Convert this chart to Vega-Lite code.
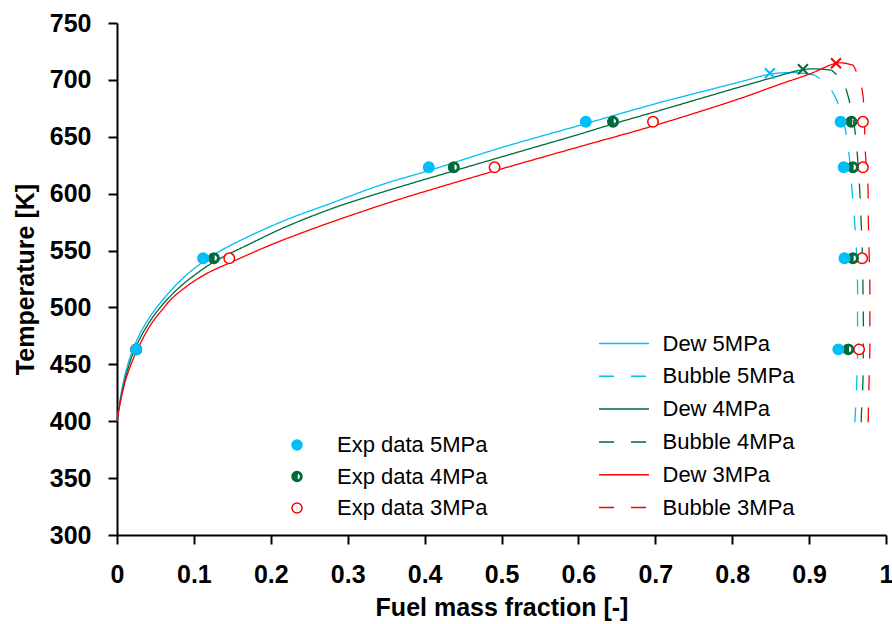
{
  "$schema": "https://vega.github.io/schema/vega-lite/v6.json",
  "width": 769,
  "height": 512,
  "autosize": "none",
  "padding": {"left": 117, "top": 23, "right": 6, "bottom": 89},
  "background": "white",
  "config": {
    "view": {"stroke": null},
    "font": "Liberation Sans",
    "axis": {
      "labelFont": "Liberation Sans",
      "titleFont": "Liberation Sans",
      "labelFontWeight": "bold",
      "titleFontWeight": "bold",
      "labelFontSize": 25,
      "titleFontSize": 25,
      "labelColor": "black",
      "titleColor": "black",
      "domainColor": "black",
      "domainWidth": 2,
      "tickColor": "black",
      "tickWidth": 2,
      "tickSize": 9,
      "grid": false,
      "labelFlush": false,
      "labelOverlap": false
    },
    "legend": {
      "labelFont": "Liberation Sans",
      "labelFontSize": 22,
      "labelColor": "black",
      "padding": 0
    }
  },
  "resolve": {"scale": {"stroke": "independent", "fill": "independent", "shape": "independent", "color": "independent", "strokeDash": "independent"}},
  "layer": [
    {
      "data": {"values": [
        {"s": "Dew 5MPa", "i": 1, "x": 0, "T": 400},
        {"s": "Dew 5MPa", "i": 2, "x": 0.003, "T": 415},
        {"s": "Dew 5MPa", "i": 3, "x": 0.007, "T": 430},
        {"s": "Dew 5MPa", "i": 4, "x": 0.012, "T": 445},
        {"s": "Dew 5MPa", "i": 5, "x": 0.02, "T": 462},
        {"s": "Dew 5MPa", "i": 6, "x": 0.03, "T": 477},
        {"s": "Dew 5MPa", "i": 7, "x": 0.045, "T": 494},
        {"s": "Dew 5MPa", "i": 8, "x": 0.06, "T": 507},
        {"s": "Dew 5MPa", "i": 9, "x": 0.08, "T": 522},
        {"s": "Dew 5MPa", "i": 10, "x": 0.1, "T": 534},
        {"s": "Dew 5MPa", "i": 11, "x": 0.13, "T": 548},
        {"s": "Dew 5MPa", "i": 12, "x": 0.17, "T": 562},
        {"s": "Dew 5MPa", "i": 13, "x": 0.22, "T": 577},
        {"s": "Dew 5MPa", "i": 14, "x": 0.28, "T": 592},
        {"s": "Dew 5MPa", "i": 15, "x": 0.342, "T": 607.4},
        {"s": "Dew 5MPa", "i": 16, "x": 0.4055, "T": 620.3},
        {"s": "Dew 5MPa", "i": 17, "x": 0.5, "T": 640.5},
        {"s": "Dew 5MPa", "i": 18, "x": 0.602, "T": 660.1},
        {"s": "Dew 5MPa", "i": 19, "x": 0.7, "T": 679},
        {"s": "Dew 5MPa", "i": 20, "x": 0.81, "T": 698.2},
        {"s": "Dew 5MPa", "i": 21, "x": 0.849, "T": 705},
        {"s": "Dew 5MPa", "i": 22, "x": 0.875, "T": 706.4},
        {"s": "Dew 5MPa", "i": 23, "x": 0.895, "T": 705.6},
        {"s": "Dew 5MPa", "i": 24, "x": 0.9076, "T": 704.1},

        {"s": "Bubble 5MPa", "i": 1, "x": 0.9595, "T": 399},
        {"s": "Bubble 5MPa", "i": 2, "x": 0.96, "T": 405},
        {"s": "Bubble 5MPa", "i": 3, "x": 0.962, "T": 434},
        {"s": "Bubble 5MPa", "i": 4, "x": 0.963, "T": 460},
        {"s": "Bubble 5MPa", "i": 5, "x": 0.963, "T": 490},
        {"s": "Bubble 5MPa", "i": 6, "x": 0.963, "T": 520},
        {"s": "Bubble 5MPa", "i": 7, "x": 0.9615, "T": 551},
        {"s": "Bubble 5MPa", "i": 8, "x": 0.959, "T": 577},
        {"s": "Bubble 5MPa", "i": 9, "x": 0.9555, "T": 606},
        {"s": "Bubble 5MPa", "i": 10, "x": 0.952, "T": 634},
        {"s": "Bubble 5MPa", "i": 11, "x": 0.946, "T": 660},
        {"s": "Bubble 5MPa", "i": 12, "x": 0.936, "T": 682},
        {"s": "Bubble 5MPa", "i": 13, "x": 0.9245, "T": 695},
        {"s": "Bubble 5MPa", "i": 14, "x": 0.9076, "T": 704.1},

        {"s": "Dew 4MPa", "i": 1, "x": 0, "T": 400},
        {"s": "Dew 4MPa", "i": 2, "x": 0.003, "T": 413},
        {"s": "Dew 4MPa", "i": 3, "x": 0.007, "T": 427},
        {"s": "Dew 4MPa", "i": 4, "x": 0.012, "T": 441},
        {"s": "Dew 4MPa", "i": 5, "x": 0.02, "T": 458},
        {"s": "Dew 4MPa", "i": 6, "x": 0.03, "T": 473},
        {"s": "Dew 4MPa", "i": 7, "x": 0.045, "T": 490},
        {"s": "Dew 4MPa", "i": 8, "x": 0.06, "T": 503},
        {"s": "Dew 4MPa", "i": 9, "x": 0.08, "T": 517},
        {"s": "Dew 4MPa", "i": 10, "x": 0.1, "T": 528},
        {"s": "Dew 4MPa", "i": 11, "x": 0.126, "T": 540},
        {"s": "Dew 4MPa", "i": 12, "x": 0.17, "T": 555},
        {"s": "Dew 4MPa", "i": 13, "x": 0.22, "T": 571},
        {"s": "Dew 4MPa", "i": 14, "x": 0.28, "T": 587},
        {"s": "Dew 4MPa", "i": 15, "x": 0.342, "T": 600.7},
        {"s": "Dew 4MPa", "i": 16, "x": 0.438, "T": 620},
        {"s": "Dew 4MPa", "i": 17, "x": 0.5, "T": 632.3},
        {"s": "Dew 4MPa", "i": 18, "x": 0.6, "T": 652},
        {"s": "Dew 4MPa", "i": 19, "x": 0.645, "T": 661.3},
        {"s": "Dew 4MPa", "i": 20, "x": 0.7, "T": 672},
        {"s": "Dew 4MPa", "i": 21, "x": 0.81, "T": 693.8},
        {"s": "Dew 4MPa", "i": 22, "x": 0.85, "T": 701.5},
        {"s": "Dew 4MPa", "i": 23, "x": 0.892, "T": 709},
        {"s": "Dew 4MPa", "i": 24, "x": 0.912, "T": 709.6},
        {"s": "Dew 4MPa", "i": 25, "x": 0.9295, "T": 708.5},

        {"s": "Bubble 4MPa", "i": 1, "x": 0.9678, "T": 399},
        {"s": "Bubble 4MPa", "i": 2, "x": 0.968, "T": 406},
        {"s": "Bubble 4MPa", "i": 3, "x": 0.97, "T": 435},
        {"s": "Bubble 4MPa", "i": 4, "x": 0.9705, "T": 463},
        {"s": "Bubble 4MPa", "i": 5, "x": 0.9705, "T": 492},
        {"s": "Bubble 4MPa", "i": 6, "x": 0.97, "T": 520},
        {"s": "Bubble 4MPa", "i": 7, "x": 0.969, "T": 552},
        {"s": "Bubble 4MPa", "i": 8, "x": 0.9675, "T": 578},
        {"s": "Bubble 4MPa", "i": 9, "x": 0.9655, "T": 607},
        {"s": "Bubble 4MPa", "i": 10, "x": 0.9625, "T": 636},
        {"s": "Bubble 4MPa", "i": 11, "x": 0.959, "T": 658},
        {"s": "Bubble 4MPa", "i": 12, "x": 0.951, "T": 685},
        {"s": "Bubble 4MPa", "i": 13, "x": 0.944, "T": 698},
        {"s": "Bubble 4MPa", "i": 14, "x": 0.9295, "T": 708.5},

        {"s": "Dew 3MPa", "i": 1, "x": 0, "T": 400},
        {"s": "Dew 3MPa", "i": 2, "x": 0.003, "T": 412},
        {"s": "Dew 3MPa", "i": 3, "x": 0.007, "T": 425},
        {"s": "Dew 3MPa", "i": 4, "x": 0.012, "T": 438},
        {"s": "Dew 3MPa", "i": 5, "x": 0.02, "T": 453},
        {"s": "Dew 3MPa", "i": 6, "x": 0.03, "T": 468},
        {"s": "Dew 3MPa", "i": 7, "x": 0.045, "T": 486},
        {"s": "Dew 3MPa", "i": 8, "x": 0.06, "T": 499},
        {"s": "Dew 3MPa", "i": 9, "x": 0.07, "T": 507},
        {"s": "Dew 3MPa", "i": 10, "x": 0.08, "T": 513},
        {"s": "Dew 3MPa", "i": 11, "x": 0.1, "T": 523},
        {"s": "Dew 3MPa", "i": 12, "x": 0.12, "T": 531},
        {"s": "Dew 3MPa", "i": 13, "x": 0.146, "T": 539},
        {"s": "Dew 3MPa", "i": 14, "x": 0.2, "T": 555},
        {"s": "Dew 3MPa", "i": 15, "x": 0.25, "T": 568},
        {"s": "Dew 3MPa", "i": 16, "x": 0.3, "T": 580},
        {"s": "Dew 3MPa", "i": 17, "x": 0.3637, "T": 594.3},
        {"s": "Dew 3MPa", "i": 18, "x": 0.491, "T": 620},
        {"s": "Dew 3MPa", "i": 19, "x": 0.6, "T": 641},
        {"s": "Dew 3MPa", "i": 20, "x": 0.697, "T": 659.5},
        {"s": "Dew 3MPa", "i": 21, "x": 0.81, "T": 683.6},
        {"s": "Dew 3MPa", "i": 22, "x": 0.862, "T": 696.2},
        {"s": "Dew 3MPa", "i": 23, "x": 0.9, "T": 705},
        {"s": "Dew 3MPa", "i": 24, "x": 0.935, "T": 714.6},
        {"s": "Dew 3MPa", "i": 25, "x": 0.948, "T": 714.5},
        {"s": "Dew 3MPa", "i": 26, "x": 0.9575, "T": 712.8},

        {"s": "Bubble 3MPa", "i": 1, "x": 0.9768, "T": 399},
        {"s": "Bubble 3MPa", "i": 2, "x": 0.977, "T": 406},
        {"s": "Bubble 3MPa", "i": 3, "x": 0.978, "T": 435},
        {"s": "Bubble 3MPa", "i": 4, "x": 0.979, "T": 463},
        {"s": "Bubble 3MPa", "i": 5, "x": 0.979, "T": 492},
        {"s": "Bubble 3MPa", "i": 6, "x": 0.979, "T": 520},
        {"s": "Bubble 3MPa", "i": 7, "x": 0.978, "T": 550},
        {"s": "Bubble 3MPa", "i": 8, "x": 0.977, "T": 578},
        {"s": "Bubble 3MPa", "i": 9, "x": 0.9765, "T": 607},
        {"s": "Bubble 3MPa", "i": 10, "x": 0.9732, "T": 636},
        {"s": "Bubble 3MPa", "i": 11, "x": 0.972, "T": 660},
        {"s": "Bubble 3MPa", "i": 12, "x": 0.97, "T": 686.5},
        {"s": "Bubble 3MPa", "i": 13, "x": 0.966, "T": 699.7},
        {"s": "Bubble 3MPa", "i": 14, "x": 0.9575, "T": 712.8}
      ]},
      "mark": {"type": "line", "interpolate": "catmull-rom", "strokeWidth": 1.3},
      "encoding": {
        "x": {"field": "x", "type": "quantitative",
              "scale": {"domain": [0, 1], "nice": false, "zero": false},
              "axis": {"values": [0, 0.1, 0.2, 0.3, 0.4, 0.5, 0.6, 0.7, 0.8, 0.9, 1], "format": "~g",
                       "title": "Fuel mass fraction [-]", "labelPadding": 18, "titlePadding": 8}},
        "y": {"field": "T", "type": "quantitative",
              "scale": {"domain": [300, 750], "nice": false, "zero": false},
              "axis": {"values": [300, 350, 400, 450, 500, 550, 600, 650, 700, 750],
                       "title": "Temperature [K]", "labelPadding": 17, "titlePadding": 11}},
        "order": {"field": "i", "type": "quantitative"},
        "detail": {"field": "s"},
        "color": {"field": "s", "type": "nominal",
                  "scale": {"domain": ["Dew 5MPa", "Bubble 5MPa", "Dew 4MPa", "Bubble 4MPa", "Dew 3MPa", "Bubble 3MPa"],
                            "range": ["#00BEF6", "#00BEF6", "#006B3A", "#006B3A", "#FF0000", "#FF0000"]},
                  "legend": {"title": null, "orient": "none", "legendX": 493.5, "legendY": 307,
                             "symbolType": "M-2,0L2,0", "symbolSize": 625, "symbolStrokeWidth": 1.5,
                             "labelOffset": 25, "rowPadding": 7.8}},
        "strokeDash": {"field": "s", "type": "nominal",
                  "scale": {"domain": ["Dew 5MPa", "Bubble 5MPa", "Dew 4MPa", "Bubble 4MPa", "Dew 3MPa", "Bubble 3MPa"],
                            "range": [[1, 0], [15, 17], [1, 0], [15, 17], [1, 0], [15, 17]]},
                  "legend": {"title": null, "orient": "none", "legendX": 493.5, "legendY": 307,
                             "symbolType": "M-2,0L2,0", "symbolSize": 625, "symbolStrokeWidth": 1.5,
                             "labelOffset": 25, "rowPadding": 7.8}}
      }
    },
    {
      "data": {"values": [
        {"e": "Exp data 3MPa", "x": 0.025, "T": 463.15},
        {"e": "Exp data 3MPa", "x": 0.146, "T": 543.15},
        {"e": "Exp data 3MPa", "x": 0.491, "T": 623.15},
        {"e": "Exp data 3MPa", "x": 0.697, "T": 663.15},
        {"e": "Exp data 3MPa", "x": 0.970, "T": 663.15},
        {"e": "Exp data 3MPa", "x": 0.970, "T": 623.15},
        {"e": "Exp data 3MPa", "x": 0.969, "T": 543.15},
        {"e": "Exp data 3MPa", "x": 0.965, "T": 463.15},
        {"e": "Exp data 4MPa", "x": 0.025, "T": 463.15},
        {"e": "Exp data 4MPa", "x": 0.126, "T": 543.15},
        {"e": "Exp data 4MPa", "x": 0.438, "T": 623.15},
        {"e": "Exp data 4MPa", "x": 0.645, "T": 663.15},
        {"e": "Exp data 4MPa", "x": 0.955, "T": 663.15},
        {"e": "Exp data 4MPa", "x": 0.957, "T": 623.15},
        {"e": "Exp data 4MPa", "x": 0.957, "T": 543.15},
        {"e": "Exp data 4MPa", "x": 0.951, "T": 463.15},
        {"e": "Exp data 5MPa", "x": 0.025, "T": 463.15},
        {"e": "Exp data 5MPa", "x": 0.112, "T": 543.15},
        {"e": "Exp data 5MPa", "x": 0.4055, "T": 623.15},
        {"e": "Exp data 5MPa", "x": 0.6096, "T": 663.15},
        {"e": "Exp data 5MPa", "x": 0.941, "T": 663.15},
        {"e": "Exp data 5MPa", "x": 0.945, "T": 623.15},
        {"e": "Exp data 5MPa", "x": 0.946, "T": 543.15},
        {"e": "Exp data 5MPa", "x": 0.938, "T": 463.15}
      ]},
      "mark": {"type": "point", "size": 110, "strokeWidth": 1.5, "opacity": 1},
      "encoding": {
        "x": {"field": "x", "type": "quantitative"},
        "y": {"field": "T", "type": "quantitative"},
        "fill": {"field": "e", "type": "nominal",
                 "scale": {"domain": ["Exp data 5MPa", "Exp data 4MPa", "Exp data 3MPa"],
                           "range": ["#00BEF6", "#006B3A", "white"]},
                 "legend": {"title": null, "orient": "none", "legendX": 169, "legendY": 411, "labelOffset": 29, "rowPadding": 9.5, "symbolSize": 100}},
        "stroke": {"field": "e", "type": "nominal",
                 "scale": {"domain": ["Exp data 5MPa", "Exp data 4MPa", "Exp data 3MPa"],
                           "range": ["#00BEF6", "#006B3A", "#FF0000"]},
                 "legend": {"title": null, "orient": "none", "legendX": 169, "legendY": 411, "labelOffset": 29, "rowPadding": 9.5, "symbolSize": 100}},
        "shape": {"field": "e", "type": "nominal",
                 "scale": {"domain": ["Exp data 5MPa", "Exp data 4MPa", "Exp data 3MPa"],
                           "range": ["circle", "M0,-1A1,1,0,0,0,0,1ZM0,-1A1,1,0,0,1,0,1L0,0.72A0.72,0.72,0,0,0,0,-0.72Z", "circle"]},
                 "legend": {"title": null, "orient": "none", "legendX": 169, "legendY": 411, "labelOffset": 29, "rowPadding": 9.5, "symbolSize": 100}}
      }
    },
    {
      "data": {"values": [
        {"c": "5MPa", "x": 0.849, "T": 705.8},
        {"c": "4MPa", "x": 0.892, "T": 709.3},
        {"c": "3MPa", "x": 0.935, "T": 714.6}
      ]},
      "mark": {"type": "point", "shape": "M-1,-1L1,1M-1,1L1,-1", "size": 100, "strokeWidth": 2, "filled": false, "opacity": 1},
      "encoding": {
        "x": {"field": "x", "type": "quantitative"},
        "y": {"field": "T", "type": "quantitative"},
        "stroke": {"field": "c", "type": "nominal",
                   "scale": {"domain": ["5MPa", "4MPa", "3MPa"], "range": ["#00BEF6", "#006B3A", "#FF0000"]},
                   "legend": null}
      }
    },
    {
      "mark": {"type": "rule", "color": "black", "strokeWidth": 2},
      "encoding": {
        "x": {"datum": 1, "type": "quantitative"},
        "y": {"datum": 300, "type": "quantitative"},
        "y2": {"datum": 750}
      }
    }
  ]
}
